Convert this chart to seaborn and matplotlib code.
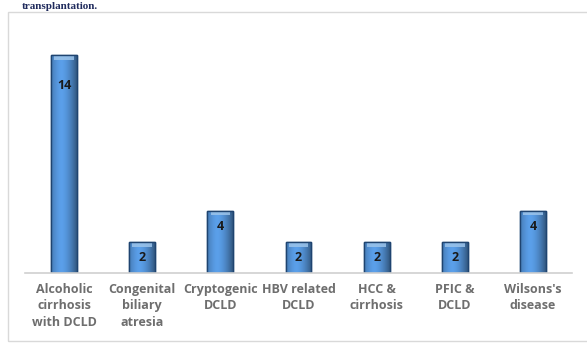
import matplotlib
matplotlib.use("Agg")
import matplotlib.pyplot as plt
import seaborn as sns
import numpy as np
import pandas as pd
from matplotlib.patches import Rectangle

categories = ["Alcoholic\ncirrhosis\nwith DCLD", "Congenital\nbiliary\natresia",
              "Cryptogenic\nDCLD", "HBV related\nDCLD", "HCC &\ncirrhosis",
              "PFIC &\nDCLD", "Wilsons's\ndisease"]
values = [14, 2, 4, 2, 2, 2, 4]

df = pd.DataFrame({"cat": categories, "val": values})

sns.set_theme(style="white")
plt.rcParams['font.family'] = ['Open Sans', 'DejaVu Sans']

W, H = 587, 344
fig = plt.figure(figsize=(W / 100, H / 100), dpi=100)
fig.patch.set_facecolor("white")

# outer frame of the chart
fig.patches.append(Rectangle((8 / W, 0.01), 1 - 8 / W + 0.01, 1 - 12 / H - 0.01,
                             transform=fig.transFigure, fill=False,
                             edgecolor="#d9d9d9", linewidth=1.0))

# caption line at top
fig.text(22 / W, 1 - 9 / H, "transplantation.", family="Liberation Serif",
         fontweight="bold", fontsize=8, color="#1f2a5c", va="baseline", ha="left")

ax = fig.add_axes([25 / W, 1 - 273 / H, (572 - 25) / W, (273 - 24) / H])
sns.barplot(data=df, x="cat", y="val", ax=ax, color="#4f8fd2", width=0.33,
            edgecolor="#234e7c", linewidth=1.0, saturation=1)

# gradient shading on bars
grad = np.linspace(0, 1, 64)
shade = 1.08 - 1.1 * np.abs(grad - 0.4) ** 1.6
shade = np.clip(shade, 0.45, 1.15)
base = np.array([0.33, 0.58, 0.85])
img = np.clip(base[None, None, :] * shade[None, :, None], 0, 1)
for p in list(ax.patches):
    x0, y0 = p.get_x(), p.get_y()
    w, h = p.get_width(), p.get_height()
    im = ax.imshow(img, extent=[x0, x0 + w, y0, y0 + h], aspect="auto",
                   zorder=p.get_zorder() + 0.1, interpolation="bicubic")
    im.set_clip_path(p)
    # lighter cap at top
    ax.add_patch(Rectangle((x0 + w * 0.12, y0 + h - 0.3), w * 0.76, 0.22,
                           facecolor="#9cc4ea", edgecolor="none", alpha=0.85,
                           zorder=p.get_zorder() + 0.2))
    ax.add_patch(Rectangle((x0, y0), w, h, fill=False, edgecolor="#1f4470",
                           linewidth=1.0, zorder=p.get_zorder() + 0.3))

for i, v in enumerate(values):
    off = -11.5 if v < 8 else -22
    ax.annotate(str(v), (i, v), xytext=(0, off), textcoords="offset points",
                ha="center", va="center", fontsize=9, fontweight="bold",
                color="#1a1a1a", zorder=10)

ax.set_xlim(-0.5, len(values) - 0.5)
ax.set_ylim(0, 16)
ax.set_xlabel("")
ax.set_ylabel("")
ax.set_yticks([])
ax.tick_params(axis="x", length=0, pad=7)
for lbl in ax.get_xticklabels():
    lbl.set_fontsize(9)
    lbl.set_fontweight("bold")
    lbl.set_color("#6e6e6e")
    lbl.set_linespacing(1.35)
for s in ["top", "right", "left"]:
    ax.spines[s].set_visible(False)
ax.spines["bottom"].set_color("#d0d0d0")
ax.spines["bottom"].set_linewidth(1.2)
ax.set_facecolor("none")

fig.savefig("out.png", dpi=100)
